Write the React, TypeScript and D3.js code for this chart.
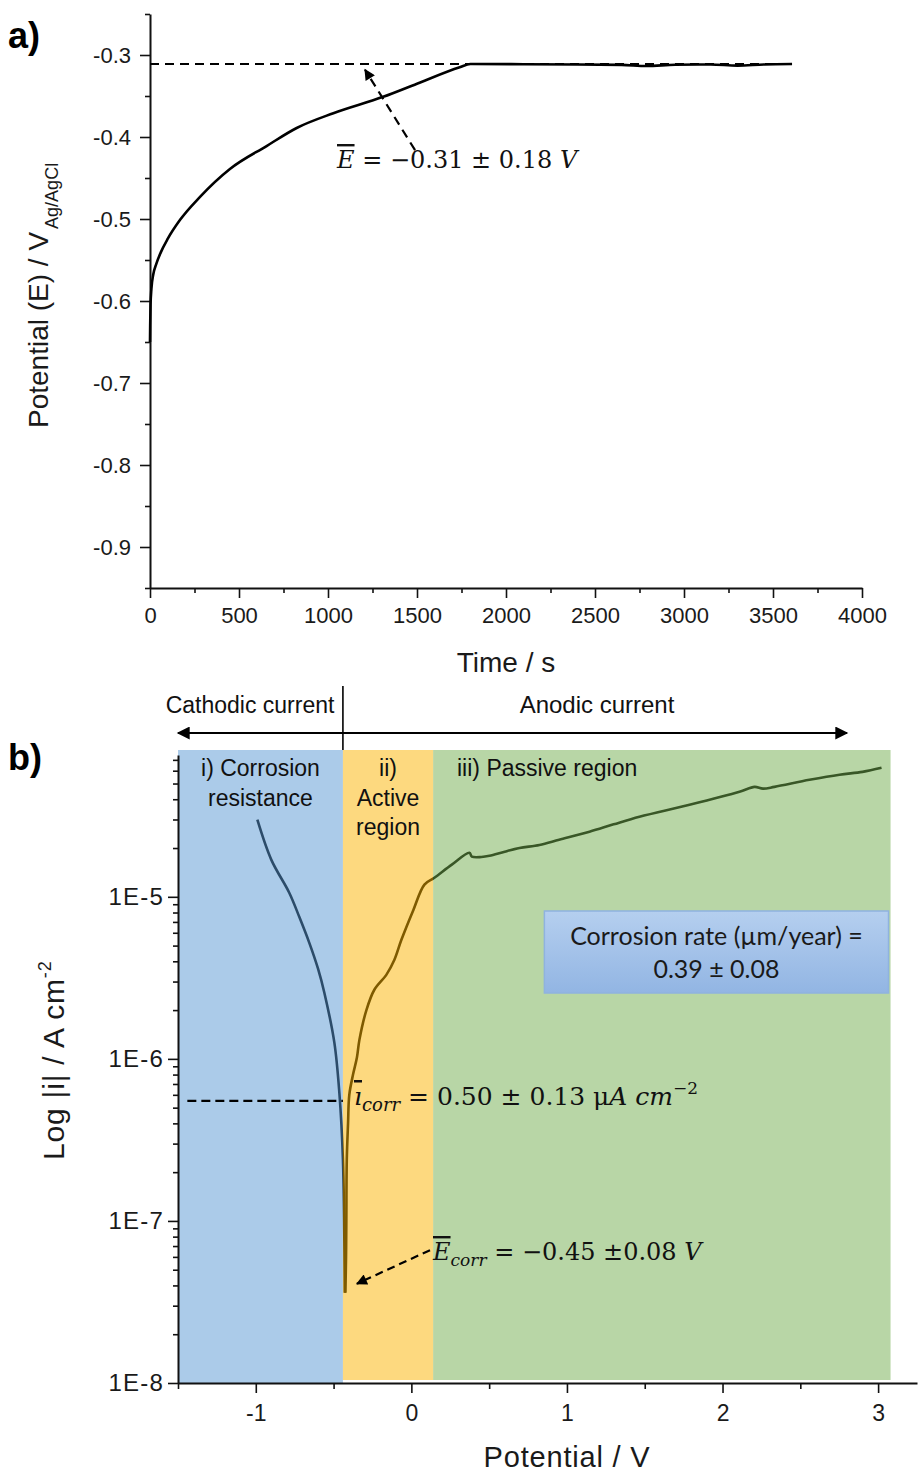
import React, { useEffect, useRef } from 'react';
import * as d3 from 'd3';

// ---- panel a: open circuit potential vs time ----
const ocpTime = [0, 1, 3, 8, 18, 35, 60, 100, 169, 281, 449, 655, 824, 1030, 1310, 1500, 1740, 1800, 2100, 2400, 2650, 2790, 2950, 3150, 3300, 3450, 3607];
const ocpPotential = [-0.65, -0.63, -0.605, -0.585, -0.568, -0.555, -0.541, -0.524, -0.501, -0.473, -0.439, -0.411, -0.389, -0.371, -0.351, -0.335, -0.315, -0.311, -0.3112, -0.3115, -0.312, -0.3135, -0.3118, -0.3115, -0.313, -0.3115, -0.311];
const meanOcp = -0.311;
const timeTicks = [0, 500, 1000, 1500, 2000, 2500, 3000, 3500, 4000];
const timeMinorTicks = [250, 750, 1250, 1750, 2250, 2750, 3250, 3750];
const potATicks = [-0.9, -0.8, -0.7, -0.6, -0.5, -0.4, -0.3];
const potAMinorTicks = [-0.95, -0.85, -0.75, -0.65, -0.55, -0.45, -0.35, -0.25];

// ---- panel b: potentiodynamic polarisation ----
const cathodicV = [-0.99, -0.9, -0.785, -0.72, -0.656, -0.6, -0.559, -0.495, -0.463, -0.44, -0.428];
const cathodicI = [2.99e-5, 1.69e-5, 1.06e-5, 7.5e-6, 5.2e-6, 3.6e-6, 2.55e-6, 1.26e-6, 6.2e-7, 2.4e-7, 3.6e-8];
const anodicV = [-0.424, -0.42, -0.418, -0.415, -0.407, -0.399, -0.375, -0.35, -0.334, -0.289, -0.238, -0.161, -0.109, -0.064, 0.013, 0.084, 0.148, 0.26, 0.373, 0.389, 0.45, 0.502, 0.6, 0.695, 0.823, 0.95, 1.145, 1.3, 1.466, 1.788, 2.109, 2.206, 2.26, 2.334, 2.559, 2.752, 2.9, 3.022];
const anodicI = [3.6e-8, 6.0e-8, 1.0e-7, 2.4e-7, 4.0e-7, 6.0e-7, 8.0e-7, 1.02e-6, 1.31e-6, 2.0e-6, 2.67e-6, 3.3e-6, 4.09e-6, 5.43e-6, 8.3e-6, 1.19e-5, 1.31e-5, 1.58e-5, 1.87e-5, 1.77e-5, 1.76e-5, 1.79e-5, 1.9e-5, 2.0e-5, 2.09e-5, 2.25e-5, 2.52e-5, 2.8e-5, 3.12e-5, 3.7e-5, 4.45e-5, 4.77e-5, 4.65e-5, 4.77e-5, 5.27e-5, 5.67e-5, 5.9e-5, 6.25e-5];
const icorrLevel = 5.5e-7;
const potBTicks = [-1, 0, 1, 2, 3];
const potBMinorTicks = [-1.5, -0.5, 0.5, 1.5, 2.5];
const currentTicks = [1e-8, 1e-7, 1e-6, 1e-5];
const regionStart = [-1.5, -0.44, 0.14];
const regionEnd = [-0.44, 0.14, 3.08];
const regionColors = ['#5797d3', '#fbb300', '#71ad4d'];
const regionLabels = [['i) Corrosion', 'resistance'], ['ii)', 'Active', 'region'], ['iii) Passive region']];

const SANS = "'Liberation Sans', Arial, sans-serif";
const SERIF = "'DejaVu Serif', 'Liberation Serif', serif";
const BOXFONT = "Lato, 'Open Sans', sans-serif";

function styleAxis(g, fontSize) {
  g.attr('font-family', SANS).attr('font-size', fontSize);
  g.selectAll('line').attr('stroke', '#111').attr('stroke-width', 1.6);
  g.select('.domain').attr('stroke', '#111').attr('stroke-width', 2);
  g.selectAll('text').attr('fill', '#1a1a1a');
}

const hyphen = (f) => (d) => f(d).replace('\u2212', '-');

export default function App() {
  const ref = useRef(null);

  useEffect(() => {
    const svg = d3.select(ref.current);
    svg.selectAll('*').remove();

    const defs = svg.append('defs');
    defs.append('marker')
      .attr('id', 'head').attr('viewBox', '0 0 10 10').attr('refX', 9).attr('refY', 5)
      .attr('markerWidth', 13).attr('markerHeight', 11).attr('markerUnits', 'userSpaceOnUse')
      .attr('orient', 'auto-start-reverse')
      .append('path').attr('d', 'M0,0 L10,5 L0,10 z').attr('fill', '#000');
    defs.append('marker')
      .attr('id', 'bighead').attr('viewBox', '0 0 10 10').attr('refX', 9).attr('refY', 5)
      .attr('markerWidth', 17).attr('markerHeight', 13).attr('markerUnits', 'userSpaceOnUse')
      .attr('orient', 'auto-start-reverse')
      .append('path').attr('d', 'M0,0 L10,5 L0,10 z').attr('fill', '#000');
    const grad = defs.append('linearGradient').attr('id', 'boxfill').attr('x1', 0).attr('y1', 0).attr('x2', 0).attr('y2', 1);
    grad.append('stop').attr('offset', '0%').attr('stop-color', '#b5cfef');
    grad.append('stop').attr('offset', '100%').attr('stop-color', '#92b5e3');

    // ===== panel a =====
    const xA = d3.scaleLinear().domain([0, 4000]).range([150, 862]);
    const yA = d3.scaleLinear().domain([-0.95, -0.25]).range([588, 14]);

    svg.append('g').attr('transform', 'translate(0,588)')
      .call(d3.axisBottom(xA).tickValues(timeTicks).tickSize(10).tickPadding(9).tickSizeOuter(0).tickFormat(d3.format('d')))
      .call(g => styleAxis(g, 22));
    svg.append('g').attr('transform', 'translate(0,588)')
      .call(d3.axisBottom(xA).tickValues(timeMinorTicks).tickSize(5).tickFormat(() => '').tickSizeOuter(0))
      .call(g => { styleAxis(g, 22); g.select('.domain').remove(); });
    svg.append('g').attr('transform', 'translate(150,0)')
      .call(d3.axisLeft(yA).tickValues(potATicks).tickSize(10).tickPadding(9).tickSizeOuter(0).tickFormat(hyphen(d3.format('.1f'))))
      .call(g => styleAxis(g, 22));
    svg.append('g').attr('transform', 'translate(150,0)')
      .call(d3.axisLeft(yA).tickValues(potAMinorTicks).tickSize(5).tickFormat(() => '').tickSizeOuter(0))
      .call(g => { styleAxis(g, 22); g.select('.domain').remove(); });

    svg.append('line')
      .attr('x1', xA(0)).attr('x2', xA(3607)).attr('y1', yA(meanOcp)).attr('y2', yA(meanOcp))
      .attr('stroke', '#000').attr('stroke-width', 2.2).attr('stroke-dasharray', '9,6');

    const lineA = d3.line().x(d => xA(d[0])).y(d => yA(d[1])).curve(d3.curveMonotoneX);
    svg.append('path')
      .datum(ocpTime.map((t, i) => [t, ocpPotential[i]]))
      .attr('fill', 'none').attr('stroke', '#000').attr('stroke-width', 2.6)
      .attr('d', lineA);

    svg.append('line')
      .attr('x1', xA(1489)).attr('y1', yA(-0.416)).attr('x2', xA(1208)).attr('y2', yA(-0.318))
      .attr('stroke', '#000').attr('stroke-width', 2.2).attr('stroke-dasharray', '9,6')
      .attr('marker-end', 'url(#head)');

    const tA = svg.append('text').attr('x', 337).attr('y', 168)
      .attr('font-family', SERIF).attr('font-size', 24).attr('fill', '#111');
    tA.append('tspan').attr('font-style', 'italic').style('text-decoration', 'overline').text('E');
    tA.append('tspan').text(' = \u22120.31 \u00b1 0.18 ');
    tA.append('tspan').attr('font-style', 'italic').text('V');

    svg.append('text').attr('x', 8).attr('y', 48)
      .attr('font-family', SANS).attr('font-weight', 'bold').attr('font-size', 36).text('a)');

    svg.append('text').attr('x', 506).attr('y', 672).attr('text-anchor', 'middle')
      .attr('font-family', SANS).attr('font-size', 28).attr('fill', '#1a1a1a').text('Time / s');

    const yLabA = svg.append('text').attr('transform', 'translate(48,428) rotate(-90)')
      .attr('font-family', SANS).attr('font-size', 28).attr('fill', '#1a1a1a');
    yLabA.append('tspan').text('Potential (E) / V');
    yLabA.append('tspan').attr('font-size', 18).attr('dy', 10).attr('dx', 3).text('Ag/AgCl');

    // ===== panel b =====
    const xB = d3.scaleLinear().domain([-1.5, 3.25]).range([178, 917]);
    const yB = d3.scaleLog().domain([1e-8, 7.5e-5]).range([1383, 755]);
    const regionTop = 750;

    const lineB = d3.line().x(d => xB(d[0])).y(d => yB(d[1])).curve(d3.curveCatmullRom.alpha(0.5));
    svg.append('path')
      .datum(cathodicV.map((v, i) => [v, cathodicI[i]]))
      .attr('fill', 'none').attr('stroke', '#000').attr('stroke-width', 2.6).attr('d', lineB);
    svg.append('path')
      .datum(anodicV.map((v, i) => [v, anodicI[i]]))
      .attr('fill', 'none').attr('stroke', '#000').attr('stroke-width', 2.6).attr('d', lineB);

    svg.append('g').selectAll('rect').data(regionStart).join('rect')
      .attr('x', d => xB(d))
      .attr('y', regionTop)
      .attr('width', (d, i) => xB(regionEnd[i]) - xB(d))
      .attr('height', (d, i) => (i === 0 ? 1383 : 1380) - regionTop)
      .attr('fill', (d, i) => regionColors[i])
      .attr('fill-opacity', 0.5);

    const minorB = [];
    for (let e = -8; e <= -5; e++) {
      for (let m = 2; m <= 9; m++) {
        const v = m * Math.pow(10, e);
        if (v <= 7.5e-5) minorB.push(v);
      }
    }
    svg.append('g').attr('transform', 'translate(0,1383)')
      .call(d3.axisBottom(xB).tickValues(potBTicks).tickSize(10).tickPadding(12).tickSizeOuter(0).tickFormat(hyphen(d3.format('d'))))
      .call(g => styleAxis(g, 23));
    svg.append('g').attr('transform', 'translate(0,1383)')
      .call(d3.axisBottom(xB).tickValues(potBMinorTicks).tickSize(6).tickFormat(() => '').tickSizeOuter(0))
      .call(g => { styleAxis(g, 22); g.select('.domain').remove(); });
    svg.append('g').attr('transform', 'translate(178,0)')
      .call(d3.axisLeft(yB).tickValues(currentTicks).tickSize(10).tickPadding(4).tickSizeOuter(0)
        .tickFormat(d => '1E-' + Math.round(-Math.log10(d))))
      .call(g => { styleAxis(g, 24); g.selectAll('text').attr('letter-spacing', 1.2); });
    svg.append('g').attr('transform', 'translate(178,0)')
      .call(d3.axisLeft(yB).tickValues(minorB).tickSize(5).tickFormat(() => '').tickSizeOuter(0))
      .call(g => { styleAxis(g, 22); g.select('.domain').remove(); });

    // header: cathodic / anodic arrows
    svg.append('line')
      .attr('x1', xB(-1.5)).attr('x2', xB(2.8)).attr('y1', 733).attr('y2', 733)
      .attr('stroke', '#000').attr('stroke-width', 2.2)
      .attr('marker-start', 'url(#bighead)').attr('marker-end', 'url(#bighead)');
    svg.append('line')
      .attr('x1', xB(-0.44)).attr('x2', xB(-0.44)).attr('y1', 686).attr('y2', regionTop)
      .attr('stroke', '#000').attr('stroke-width', 1.6);
    svg.append('text').attr('x', 250).attr('y', 713).attr('text-anchor', 'middle')
      .attr('font-family', SANS).attr('font-size', 23).attr('fill', '#111').text('Cathodic current');
    svg.append('text').attr('x', 597).attr('y', 713).attr('text-anchor', 'middle')
      .attr('font-family', SANS).attr('font-size', 24).attr('fill', '#111').text('Anodic current');

    // region labels
    const labelX = [xB(-0.97), xB(-0.15), 457];
    const labelAnchor = ['middle', 'middle', 'start'];
    regionLabels.forEach((lines, i) => {
      const t = svg.append('text').attr('font-family', SANS).attr('font-size', 23)
        .attr('fill', '#111').attr('text-anchor', labelAnchor[i]);
      lines.forEach((s, j) => {
        t.append('tspan').attr('x', labelX[i]).attr('y', 776 + j * 29.5).text(s);
      });
    });

    // i_corr dashed line
    svg.append('line')
      .attr('x1', xB(-1.44)).attr('x2', xB(-0.44)).attr('y1', yB(icorrLevel)).attr('y2', yB(icorrLevel))
      .attr('stroke', '#000').attr('stroke-width', 2.2).attr('stroke-dasharray', '9,5');

    const tI = svg.append('text').attr('x', 354).attr('y', 1105)
      .attr('font-family', SERIF).attr('font-size', 25).attr('fill', '#111');
    tI.append('tspan').attr('font-style', 'italic').style('text-decoration', 'overline').text('\u0131');
    tI.append('tspan').attr('font-style', 'italic').attr('font-size', 18).attr('dy', 6).text('corr');
    tI.append('tspan').attr('dy', -6).text(' = 0.50 \u00b1 0.13 \u03bc');
    tI.append('tspan').attr('font-style', 'italic').text('A cm');
    tI.append('tspan').attr('font-size', 17).attr('dy', -11).text('\u22122');

    // E_corr arrow + label
    svg.append('line')
      .attr('x1', xB(0.12)).attr('y1', yB(6.6e-8)).attr('x2', xB(-0.35)).attr('y2', yB(4.1e-8))
      .attr('stroke', '#000').attr('stroke-width', 2.2).attr('stroke-dasharray', '8,5')
      .attr('marker-end', 'url(#head)');
    const tE = svg.append('text').attr('x', 433).attr('y', 1260)
      .attr('font-family', SERIF).attr('font-size', 24).attr('fill', '#111');
    tE.append('tspan').attr('font-style', 'italic').style('text-decoration', 'overline').text('E');
    tE.append('tspan').attr('font-style', 'italic').attr('font-size', 17).attr('dy', 6).text('corr');
    tE.append('tspan').attr('dy', -6).text(' = \u22120.45 \u00b10.08 ');
    tE.append('tspan').attr('font-style', 'italic').text('V');

    // corrosion rate box
    svg.append('rect')
      .attr('x', xB(0.855)).attr('y', 911).attr('width', xB(3.067) - xB(0.855)).attr('height', 82)
      .attr('fill', 'url(#boxfill)').attr('stroke', '#8fb3df').attr('stroke-width', 1.5);
    const boxCx = (xB(0.855) + xB(3.067)) / 2;
    svg.append('text').attr('x', boxCx).attr('y', 945).attr('text-anchor', 'middle')
      .attr('font-family', BOXFONT).attr('font-size', 25).attr('fill', '#1a1a1a')
      .text('Corrosion rate (\u00b5m/year) =');
    svg.append('text').attr('x', boxCx).attr('y', 978).attr('text-anchor', 'middle')
      .attr('font-family', BOXFONT).attr('font-size', 25).attr('fill', '#1a1a1a')
      .text('0.39 \u00b1 0.08');

    svg.append('text').attr('x', 8).attr('y', 770)
      .attr('font-family', SANS).attr('font-weight', 'bold').attr('font-size', 36).text('b)');

    svg.append('text').attr('x', 567).attr('y', 1467).attr('text-anchor', 'middle')
      .attr('font-family', SANS).attr('font-size', 29).attr('letter-spacing', 0.8).attr('fill', '#1a1a1a')
      .text('Potential / V');

    const yLabB = svg.append('text').attr('transform', 'translate(64,1160) rotate(-90)')
      .attr('font-family', SANS).attr('font-size', 30).attr('letter-spacing', 0.8).attr('fill', '#1a1a1a');
    yLabB.append('tspan').text('Log |i| / A cm');
    yLabB.append('tspan').attr('font-size', 18).attr('dy', -13).text('-2');
  }, []);

  return (
    <svg
      ref={ref}
      width={919}
      height={1476}
      style={{ position: 'absolute', left: 0, top: 0, background: '#fff' }}
    />
  );
}
